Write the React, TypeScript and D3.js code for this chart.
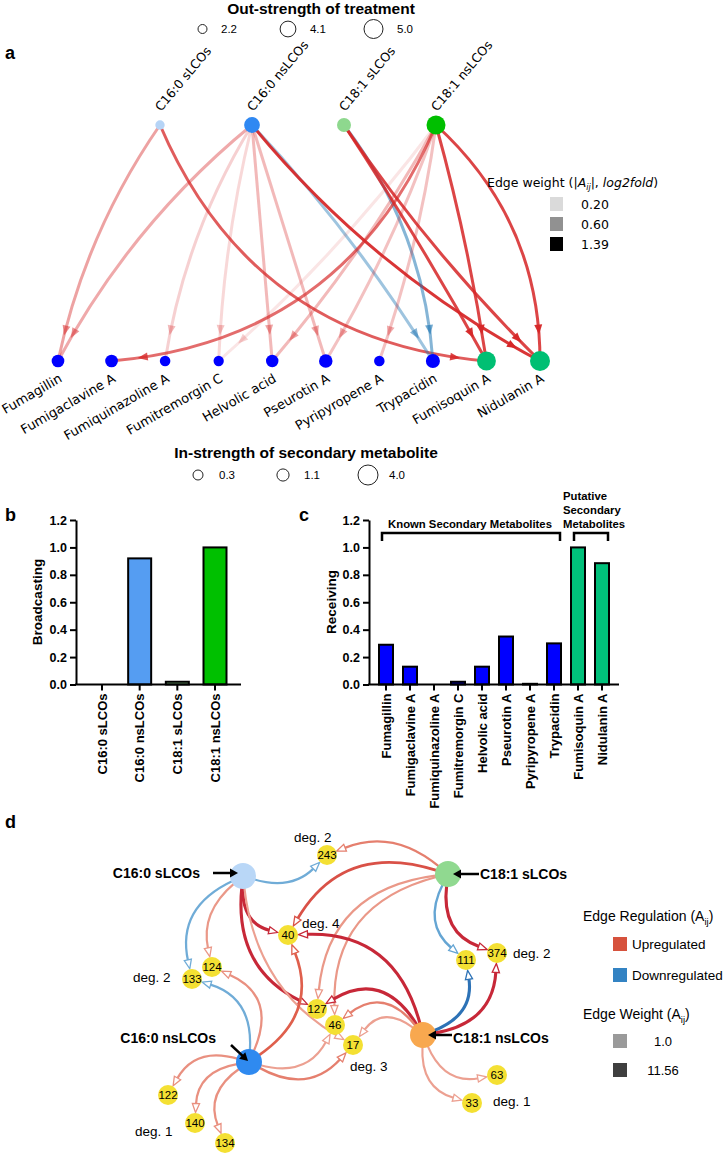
import React, { useRef, useEffect } from 'react';
import * as d3 from 'd3';

// ---------- data ----------
const treatments = ['C16:0 sLCOs', 'C16:0 nsLCOs', 'C18:1 sLCOs', 'C18:1 nsLCOs'];
const treatmentOutStrength = [2.3, 4.1, 3.6, 5.0];
const metabolites = [
  'Fumagillin', 'Fumigaclavine A', 'Fumiquinazoline A', 'Fumitremorgin C', 'Helvolic acid',
  'Pseurotin A', 'Pyripyropene A', 'Trypacidin', 'Fumisoquin A', 'Nidulanin A',
];
const putativeMetabolites = ['Fumisoquin A', 'Nidulanin A'];
const metaboliteInStrength = [1.3, 1.3, 0.5, 0.4, 1.2, 1.6, 0.5, 1.8, 3.6, 4.0];
const outStrengthLegend = [2.2, 4.1, 5.0];
const inStrengthLegend = [0.3, 1.1, 4.0];
const edgeWeightLegend = [0.2, 0.6, 1.39];

// treatment -> metabolite, signed log2fold (negative = downregulated)
const bipartiteEdges: [string, string, number][] = [
  ['C16:0 sLCOs', 'Fumagillin', 0.6],
  ['C16:0 sLCOs', 'Fumisoquin A', 1.05],
  ['C16:0 nsLCOs', 'Fumagillin', 0.55],
  ['C16:0 nsLCOs', 'Fumiquinazoline A', 0.3],
  ['C16:0 nsLCOs', 'Fumitremorgin C', 0.25],
  ['C16:0 nsLCOs', 'Helvolic acid', 0.45],
  ['C16:0 nsLCOs', 'Pseurotin A', 0.45],
  ['C16:0 nsLCOs', 'Trypacidin', -0.6],
  ['C16:0 nsLCOs', 'Nidulanin A', 1.3],
  ['C18:1 sLCOs', 'Trypacidin', -0.75],
  ['C18:1 sLCOs', 'Fumisoquin A', 1.2],
  ['C18:1 sLCOs', 'Nidulanin A', 1.2],
  ['C18:1 nsLCOs', 'Fumigaclavine A', 0.95],
  ['C18:1 nsLCOs', 'Fumitremorgin C', 0.15],
  ['C18:1 nsLCOs', 'Helvolic acid', 0.45],
  ['C18:1 nsLCOs', 'Pseurotin A', 0.4],
  ['C18:1 nsLCOs', 'Pyripyropene A', 0.4],
  ['C18:1 nsLCOs', 'Fumisoquin A', 1.2],
  ['C18:1 nsLCOs', 'Nidulanin A', 1.2],
];
// curvature of each edge above (arc3 style)
const bipartiteBend = [-0.1, -0.3, -0.1, -0.1, -0.05, 0, 0, 0.05, -0.1, 0.15, 0.02, -0.05, 0.3, 0.05, 0.05, 0.05, 0.05, 0.03, 0.22];

const broadcasting = [0, 0.92, 0.02, 1.0];
const receiving = [0.29, 0.13, 0, 0.02, 0.13, 0.35, 0.005, 0.3, 1.0, 0.885];
const yTicks = [0, 0.2, 0.4, 0.6, 0.8, 1.0, 1.2];

// panel d network: source, target, weight, regulation
const networkEdges: [string, string, number, string][] = [
  ['C16:0 sLCOs', '243', 3, 'down'],
  ['C16:0 sLCOs', '133', 3, 'down'],
  ['C16:0 sLCOs', '124', 2.5, 'up'],
  ['C16:0 sLCOs', '40', 10, 'up'],
  ['C16:0 sLCOs', '127', 10, 'up'],
  ['C16:0 sLCOs', '17', 2, 'up'],
  ['C16:0 nsLCOs', '133', 3, 'down'],
  ['C16:0 nsLCOs', '124', 3, 'up'],
  ['C16:0 nsLCOs', '40', 6, 'up'],
  ['C16:0 nsLCOs', '46', 2, 'up'],
  ['C16:0 nsLCOs', '17', 4, 'up'],
  ['C16:0 nsLCOs', '122', 3, 'up'],
  ['C16:0 nsLCOs', '140', 3, 'up'],
  ['C16:0 nsLCOs', '134', 3, 'up'],
  ['C18:1 sLCOs', '243', 4, 'up'],
  ['C18:1 sLCOs', '40', 7, 'up'],
  ['C18:1 sLCOs', '127', 2.5, 'up'],
  ['C18:1 sLCOs', '46', 2.5, 'up'],
  ['C18:1 sLCOs', '111', 4, 'down'],
  ['C18:1 sLCOs', '374', 10, 'up'],
  ['C18:1 nsLCOs', '40', 10, 'up'],
  ['C18:1 nsLCOs', '127', 10, 'up'],
  ['C18:1 nsLCOs', '46', 4, 'up'],
  ['C18:1 nsLCOs', '17', 2, 'up'],
  ['C18:1 nsLCOs', '111', 10, 'down'],
  ['C18:1 nsLCOs', '374', 10, 'up'],
  ['C18:1 nsLCOs', '63', 2, 'up'],
  ['C18:1 nsLCOs', '33', 2, 'up'],
];
const networkWeightLegend = ['1.0', '11.56'];

// ---------- layout ----------
const networkLayout: Record<string, [number, number]> = {
  'C16:0 sLCOs': [243, 876],
  'C16:0 nsLCOs': [249, 1062],
  'C18:1 sLCOs': [448, 874],
  'C18:1 nsLCOs': [423, 1035],
  '243': [327, 855], '40': [288, 935], '124': [212, 967], '133': [192, 979],
  '127': [317, 1009], '46': [335, 1025], '17': [353, 1045],
  '122': [168, 1095], '140': [195, 1123], '134': [225, 1143],
  '111': [466, 960], '374': [497, 953], '63': [497, 1075], '33': [472, 1103],
};
const networkBend: Record<string, number> = {
  'C16:0 sLCOs>127': -0.35, 'C16:0 sLCOs>17': -0.25, 'C16:0 sLCOs>243': -0.3,
  'C16:0 sLCOs>124': -0.3, 'C18:1 nsLCOs>127': -0.5, 'C18:1 nsLCOs>46': -0.5,
  'C18:1 nsLCOs>17': -0.5, 'C18:1 sLCOs>243': -0.3, 'C16:0 nsLCOs>124': -0.5,
};
const degreeLabelPos: Record<string, [number, number]> = {
  '243': [294, 842], '40': [302, 928], '133': [133, 982], '17': [350, 1071],
  '140': [135, 1136], '374': [513, 958], '33': [493, 1106],
};
const treatmentColor: Record<string, string> = {
  'C16:0 sLCOs': '#b6d4f6', 'C16:0 nsLCOs': '#2f88f2', 'C18:1 sLCOs': '#8ed88e', 'C18:1 nsLCOs': '#00bf00',
};
const networkColor: Record<string, string> = {
  'C16:0 sLCOs': '#b9d7f7', 'C16:0 nsLCOs': '#2f8af0', 'C18:1 sLCOs': '#90d990', 'C18:1 nsLCOs': '#f8a84f',
};

const SANS = "'Liberation Sans', Arial, sans-serif";
const DEJAVU = "'DejaVu Sans', sans-serif";

type Pt = [number, number];
const arcControl = (p0: Pt, p2: Pt, rad: number): Pt => {
  const mx = (p0[0] + p2[0]) / 2, my = (p0[1] + p2[1]) / 2;
  const dx = p2[0] - p0[0], dy = p2[1] - p0[1];
  return [mx + rad * dy, my - rad * dx];
};
const quad = (p0: Pt, c: Pt, p2: Pt, t: number): Pt => [
  (1 - t) * (1 - t) * p0[0] + 2 * t * (1 - t) * c[0] + t * t * p2[0],
  (1 - t) * (1 - t) * p0[1] + 2 * t * (1 - t) * c[1] + t * t * p2[1],
];
const quadDeriv = (p0: Pt, c: Pt, p2: Pt, t: number): Pt => [
  2 * (1 - t) * (c[0] - p0[0]) + 2 * t * (p2[0] - c[0]),
  2 * (1 - t) * (c[1] - p0[1]) + 2 * t * (p2[1] - c[1]),
];
const unit = (v: Pt): Pt => { const l = Math.hypot(v[0], v[1]) || 1; return [v[0] / l, v[1] / l]; };
const arrowPath = (tip: Pt, u: Pt, len: number, half: number) => {
  const b: Pt = [tip[0] - u[0] * len, tip[1] - u[1] * len];
  const n: Pt = [-u[1], u[0]];
  return `M${tip[0]},${tip[1]}L${b[0] + n[0] * half},${b[1] + n[1] * half}L${b[0] - n[0] * half},${b[1] - n[1] * half}Z`;
};

function drawPanelA(svg: any) {
  const g = svg.append('g');
  const sx = d3.scalePoint<string>().domain(treatments).range([160, 436]);
  const tx = d3.scalePoint<string>().domain(metabolites).range([58, 540]);
  const yTop = 125, yBot = 361;
  const outR = d3.scaleLinear().domain([2.2, 5]).range([4.5, 9.5]);
  const inR = d3.scaleLinear().domain([0.3, 4]).range([5, 10]);
  const alpha = (w: number) => Math.min(0.95, Math.max(0.12, Math.abs(w) / 1.39));

  g.append('text').attr('x', 5).attr('y', 59).attr('font-family', SANS).attr('font-weight', 'bold')
    .attr('font-size', 18).text('a');

  // out-strength legend
  g.append('text').attr('x', 321).attr('y', 14).attr('text-anchor', 'middle').attr('font-family', SANS)
    .attr('font-weight', 'bold').attr('font-size', 15.5).text('Out-strength of treatment');
  const outLx = [202.5, 288, 373.5];
  outStrengthLegend.forEach((v, i) => {
    const r = outR(v);
    g.append('circle').attr('cx', outLx[i]).attr('cy', 29).attr('r', r).attr('fill', 'none').attr('stroke', '#222').attr('stroke-width', 1);
    g.append('text').attr('x', outLx[i] + r + 14).attr('y', 33).attr('font-family', SANS).attr('font-size', 11.5)
      .text(d3.format('.1f')(v));
  });

  // edges
  bipartiteEdges.forEach(([s, t, w], i) => {
    const p0: Pt = [sx(s)!, yTop];
    const p2: Pt = [tx(t)!, yBot];
    const c = arcControl(p0, p2, bipartiteBend[i]);
    const color = w < 0 ? '#1f77b4' : '#d62728';
    const op = alpha(w);
    g.append('path').attr('d', `M${p0[0]},${p0[1]}Q${c[0]},${c[1]} ${p2[0]},${p2[1]}`)
      .attr('fill', 'none').attr('stroke', color).attr('stroke-opacity', op).attr('stroke-width', 3);
    let tt = 1;
    while (tt > 0) {
      const q = quad(p0, c, p2, tt);
      if (Math.hypot(q[0] - p2[0], q[1] - p2[1]) >= 30) break;
      tt -= 0.002;
    }
    const tip = quad(p0, c, p2, tt);
    const u = unit(quadDeriv(p0, c, p2, tt));
    g.append('path').attr('d', arrowPath([tip[0] + u[0] * 4, tip[1] + u[1] * 4], u, 10, 4))
      .attr('fill', color).attr('fill-opacity', Math.min(1, op + 0.1));
  });

  // source nodes + labels
  treatments.forEach((s, i) => {
    g.append('circle').attr('cx', sx(s)!).attr('cy', yTop).attr('r', outR(treatmentOutStrength[i]))
      .attr('fill', treatmentColor[s]);
    g.append('text').attr('transform', `translate(${sx(s)! + 1},${yTop - 13}) rotate(-50)`)
      .attr('font-family', DEJAVU).attr('font-size', 12.5).text(s);
  });
  // target nodes + labels
  metabolites.forEach((m, i) => {
    const put = putativeMetabolites.includes(m);
    g.append('circle').attr('cx', tx(m)!).attr('cy', yBot).attr('r', inR(metaboliteInStrength[i]))
      .attr('fill', put ? '#00bf73' : '#0000ff');
    g.append('text').attr('transform', `translate(${tx(m)! + 5},${yBot + 20}) rotate(-30)`)
      .attr('text-anchor', 'end').attr('font-family', DEJAVU).attr('font-size', 13).text(m);
  });

  // edge weight legend
  const t = g.append('text').attr('x', 487).attr('y', 187).attr('font-family', DEJAVU).attr('font-size', 12.5);
  t.append('tspan').text('Edge weight (|');
  t.append('tspan').attr('font-style', 'italic').text('A');
  t.append('tspan').attr('font-style', 'italic').attr('font-size', 8).attr('dy', 3).text('ij');
  t.append('tspan').attr('dy', -3).text('|, ');
  t.append('tspan').attr('font-style', 'italic').text('log2fold');
  t.append('tspan').text(')');
  edgeWeightLegend.forEach((w, i) => {
    const cy = 204 + i * 20;
    g.append('rect').attr('x', 550).attr('y', cy - 7).attr('width', 13).attr('height', 14)
      .attr('fill', '#000').attr('fill-opacity', Math.min(1, w / 1.39));
    g.append('text').attr('x', 581).attr('y', cy + 5).attr('font-family', DEJAVU).attr('font-size', 12.5)
      .text(d3.format('.2f')(w));
  });

  // in-strength legend
  g.append('text').attr('x', 306).attr('y', 458).attr('text-anchor', 'middle').attr('font-family', SANS)
    .attr('font-weight', 'bold').attr('font-size', 15.5).text('In-strength of secondary metabolite');
  const inLx = [198, 283, 368];
  inStrengthLegend.forEach((v, i) => {
    const r = inR(v);
    g.append('circle').attr('cx', inLx[i]).attr('cy', 475).attr('r', r).attr('fill', 'none').attr('stroke', '#222').attr('stroke-width', 1);
    g.append('text').attr('x', inLx[i] + 21).attr('y', 479).attr('font-family', SANS).attr('font-size', 11.5)
      .text(d3.format('.1f')(v));
  });
}

function drawBarPanel(svg: any, opts: {
  letter: string; letterX: number; axisX: number; axisEnd: number; cats: string[]; values: number[];
  range: [number, number]; barW: number; color: (c: string) => string; ylabel: string; ylabelX: number;
}) {
  const g = svg.append('g');
  const y = d3.scaleLinear().domain([0, 1.2]).range([684.5, 520]);
  const x = d3.scalePoint<string>().domain(opts.cats).range(opts.range);
  g.append('text').attr('x', opts.letterX).attr('y', 521).attr('font-family', SANS).attr('font-weight', 'bold')
    .attr('font-size', 18).text(opts.letter);

  opts.cats.forEach((c, i) => {
    const v = opts.values[i];
    if (v <= 0) return;
    g.append('rect').attr('x', x(c)! - opts.barW / 2).attr('y', y(v)).attr('width', opts.barW)
      .attr('height', y(0) - y(v)).attr('fill', opts.color(c)).attr('stroke', '#000').attr('stroke-width', 2);
  });

  const ax = g.append('g').attr('transform', `translate(${opts.axisX},0)`)
    .call(d3.axisLeft(y).tickValues(yTicks).tickFormat(d3.format('.1f')).tickSize(6).tickSizeOuter(0).tickPadding(3));
  ax.attr('font-family', SANS).attr('font-size', 12.5).attr('font-weight', 'bold');
  ax.select('.domain').attr('stroke-width', 2);
  ax.selectAll('.tick line').attr('stroke-width', 2);

  g.append('line').attr('x1', opts.axisX - 1).attr('x2', opts.axisEnd).attr('y1', y(0)).attr('y2', y(0))
    .attr('stroke', '#000').attr('stroke-width', 2);
  opts.cats.forEach((c) => {
    g.append('line').attr('x1', x(c)).attr('x2', x(c)).attr('y1', y(0)).attr('y2', y(0) + 6)
      .attr('stroke', '#000').attr('stroke-width', 2);
    g.append('text').attr('transform', `translate(${x(c)},${y(0) + 9}) rotate(-90)`)
      .attr('text-anchor', 'end').attr('dy', '0.35em').attr('font-family', SANS).attr('font-weight', 'bold')
      .attr('font-size', 13).text(c);
  });

  g.append('text').attr('transform', `translate(${opts.ylabelX},602) rotate(-90)`).attr('text-anchor', 'middle')
    .attr('font-family', SANS).attr('font-weight', 'bold').attr('font-size', 13.5).text(opts.ylabel);
  return { g, x, y };
}

function drawPanelD(svg: any) {
  const g = svg.append('g');
  g.append('text').attr('x', 5).attr('y', 828).attr('font-family', SANS).attr('font-weight', 'bold')
    .attr('font-size', 18).text('d');

  const upColor = d3.scaleLinear<string>().domain([1, 6, 11.56]).range(['#efb0a2', '#df5f4c', '#bd1230'])
    .interpolate(d3.interpolateRgb).clamp(true);
  const downColor = d3.scaleLinear<string>().domain([1, 6, 11.56]).range(['#86bade', '#4f97cc', '#2063ad'])
    .interpolate(d3.interpolateRgb).clamp(true);
  const widthScale = d3.scaleLinear().domain([1, 11.56]).range([2, 3.3]);
  const isTreatment = (n: string) => treatments.includes(n);
  const radius = (n: string) => (isTreatment(n) ? 13 : 10);

  networkEdges.forEach(([s, t, w, reg]) => {
    const p0 = networkLayout[s];
    const p2 = networkLayout[t];
    const bend = networkBend[`${s}>${t}`] ?? -0.4;
    const c = arcControl(p0, p2, bend);
    const us = unit([c[0] - p0[0], c[1] - p0[1]]);
    const ue = unit([p2[0] - c[0], p2[1] - c[1]]);
    const a: Pt = [p0[0] + us[0] * (radius(s) - 2), p0[1] + us[1] * (radius(s) - 2)];
    const tip: Pt = [p2[0] - ue[0] * (radius(t) + 0.5), p2[1] - ue[1] * (radius(t) + 0.5)];
    const end: Pt = [tip[0] - ue[0] * 8, tip[1] - ue[1] * 8];
    const col = reg === 'up' ? upColor(w) : downColor(w);
    g.append('path').attr('d', `M${a[0]},${a[1]}Q${c[0]},${c[1]} ${end[0]},${end[1]}`)
      .attr('fill', 'none').attr('stroke', col).attr('stroke-width', widthScale(w));
    g.append('path').attr('d', arrowPath(tip, ue, 9, 3.6)).attr('fill', '#fff').attr('stroke', col)
      .attr('stroke-width', 1.3).attr('stroke-linejoin', 'miter');
  });

  Object.keys(networkLayout).forEach((n) => {
    const [cx, cy] = networkLayout[n];
    if (isTreatment(n)) {
      g.append('circle').attr('cx', cx).attr('cy', cy).attr('r', 13).attr('fill', networkColor[n]);
    } else {
      g.append('circle').attr('cx', cx).attr('cy', cy).attr('r', 10).attr('fill', '#f4e033');
      g.append('text').attr('x', cx).attr('y', cy + 4).attr('text-anchor', 'middle').attr('font-family', SANS)
        .attr('font-size', 11.5).text(n);
    }
  });

  // degree annotations
  Object.keys(degreeLabelPos).forEach((n) => {
    const deg = networkEdges.filter((e) => e[1] === n).length;
    const [x, y] = degreeLabelPos[n];
    g.append('text').attr('x', x).attr('y', y).attr('font-family', SANS).attr('font-size', 13.5).text(`deg. ${deg}`);
  });

  // treatment labels with pointer arrows
  const pointers: { name: string; label: [number, number]; anchor: string; from: Pt; to: Pt }[] = [
    { name: 'C16:0 sLCOs', label: [200, 878], anchor: 'end', from: [213, 873], to: [238, 873] },
    { name: 'C16:0 nsLCOs', label: [216, 1043], anchor: 'end', from: [231, 1045], to: [248, 1061] },
    { name: 'C18:1 sLCOs', label: [480, 879], anchor: 'start', from: [479, 874], to: [453, 874] },
    { name: 'C18:1 nsLCOs', label: [453, 1043], anchor: 'start', from: [452, 1035], to: [428, 1035] },
  ];
  pointers.forEach((p) => {
    const u = unit([p.to[0] - p.from[0], p.to[1] - p.from[1]]);
    const base: Pt = [p.to[0] - u[0] * 7, p.to[1] - u[1] * 7];
    g.append('line').attr('x1', p.from[0]).attr('y1', p.from[1]).attr('x2', base[0]).attr('y2', base[1])
      .attr('stroke', '#000').attr('stroke-width', 2.5);
    g.append('path').attr('d', arrowPath(p.to, u, 8, 4.5)).attr('fill', '#000');
    g.append('text').attr('x', p.label[0]).attr('y', p.label[1]).attr('text-anchor', p.anchor)
      .attr('font-family', SANS).attr('font-weight', 'bold').attr('font-size', 14).text(p.name);
  });

  // legend
  const addSubTitle = (y: number, label: string) => {
    const t = g.append('text').attr('x', 583).attr('y', y).attr('font-family', SANS).attr('font-size', 14);
    t.append('tspan').text(`${label} (A`);
    t.append('tspan').attr('font-size', 9.5).attr('dy', 4).text('ij');
    t.append('tspan').attr('dy', -4).text(')');
  };
  addSubTitle(921, 'Edge Regulation');
  [['Upregulated', '#d6523d'], ['Downregulated', '#3383c3']].forEach(([lab, col], i) => {
    const y0 = 937 + i * 31;
    g.append('rect').attr('x', 613).attr('y', y0).attr('width', 14).attr('height', 14).attr('fill', col);
    g.append('text').attr('x', 632).attr('y', y0 + 12).attr('font-family', SANS).attr('font-size', 13.5).text(lab);
  });
  addSubTitle(1019, 'Edge Weight');
  networkWeightLegend.forEach((w, i) => {
    const y0 = 1034 + i * 29;
    g.append('rect').attr('x', 613).attr('y', y0).attr('width', 14).attr('height', 14)
      .attr('fill', i === 0 ? '#9a9a9a' : '#3f3f3f');
    g.append('text').attr('x', 663).attr('y', y0 + 12).attr('text-anchor', 'middle').attr('font-family', SANS)
      .attr('font-size', 13).text(w);
  });
}

export default function App() {
  const svgRef = useRef<SVGSVGElement>(null);

  useEffect(() => {
    const svg = d3.select(svgRef.current);
    svg.selectAll('*').remove();
    svg.append('rect').attr('width', 725).attr('height', 1155).attr('fill', '#fff');

    drawPanelA(svg);

    drawBarPanel(svg, {
      letter: 'b', letterX: 5, axisX: 76, axisEnd: 241, cats: treatments, values: broadcasting,
      range: [102, 215], barW: 23, ylabel: 'Broadcasting', ylabelX: 42,
      color: (c) => (c === 'C16:0 nsLCOs' ? '#559df2' : c === 'C18:1 nsLCOs' ? '#00c000' : c.startsWith('C16') ? '#b6d4f6' : '#8ed88e'),
    });

    const c = drawBarPanel(svg, {
      letter: 'c', letterX: 299, axisX: 369, axisEnd: 619, cats: metabolites, values: receiving,
      range: [386, 602], barW: 14, ylabel: 'Receiving', ylabelX: 336,
      color: (m) => (putativeMetabolites.includes(m) ? '#00c07a' : '#0000ff'),
    });
    // group brackets
    const known = metabolites.filter((m) => !putativeMetabolites.includes(m));
    const brackets: [string[], number][] = [[known, 4], [putativeMetabolites, 4]];
    brackets.forEach(([group, pad]) => {
      const x0 = c.x(group[0])! - pad, x1 = c.x(group[group.length - 1])! + pad + 2;
      c.g.append('path').attr('d', `M${x0},541V533H${x1}V541`).attr('fill', 'none').attr('stroke', '#000')
        .attr('stroke-width', 2.5);
    });
    c.g.append('text').attr('x', (c.x(known[0])! + c.x(known[known.length - 1])!) / 2).attr('y', 528)
      .attr('text-anchor', 'middle').attr('font-family', SANS).attr('font-weight', 'bold').attr('font-size', 11.3)
      .text('Known Secondary Metabolites');
    ['Putative', 'Secondary', 'Metabolites'].forEach((w, i) => {
      c.g.append('text').attr('x', 563).attr('y', 500 + i * 14).attr('font-family', SANS).attr('font-weight', 'bold')
        .attr('font-size', 11.3).text(w);
    });

    drawPanelD(svg);
  }, []);

  return (
    <svg ref={svgRef} width={725} height={1155} style={{ position: 'absolute', left: 0, top: 0 }} />
  );
}
